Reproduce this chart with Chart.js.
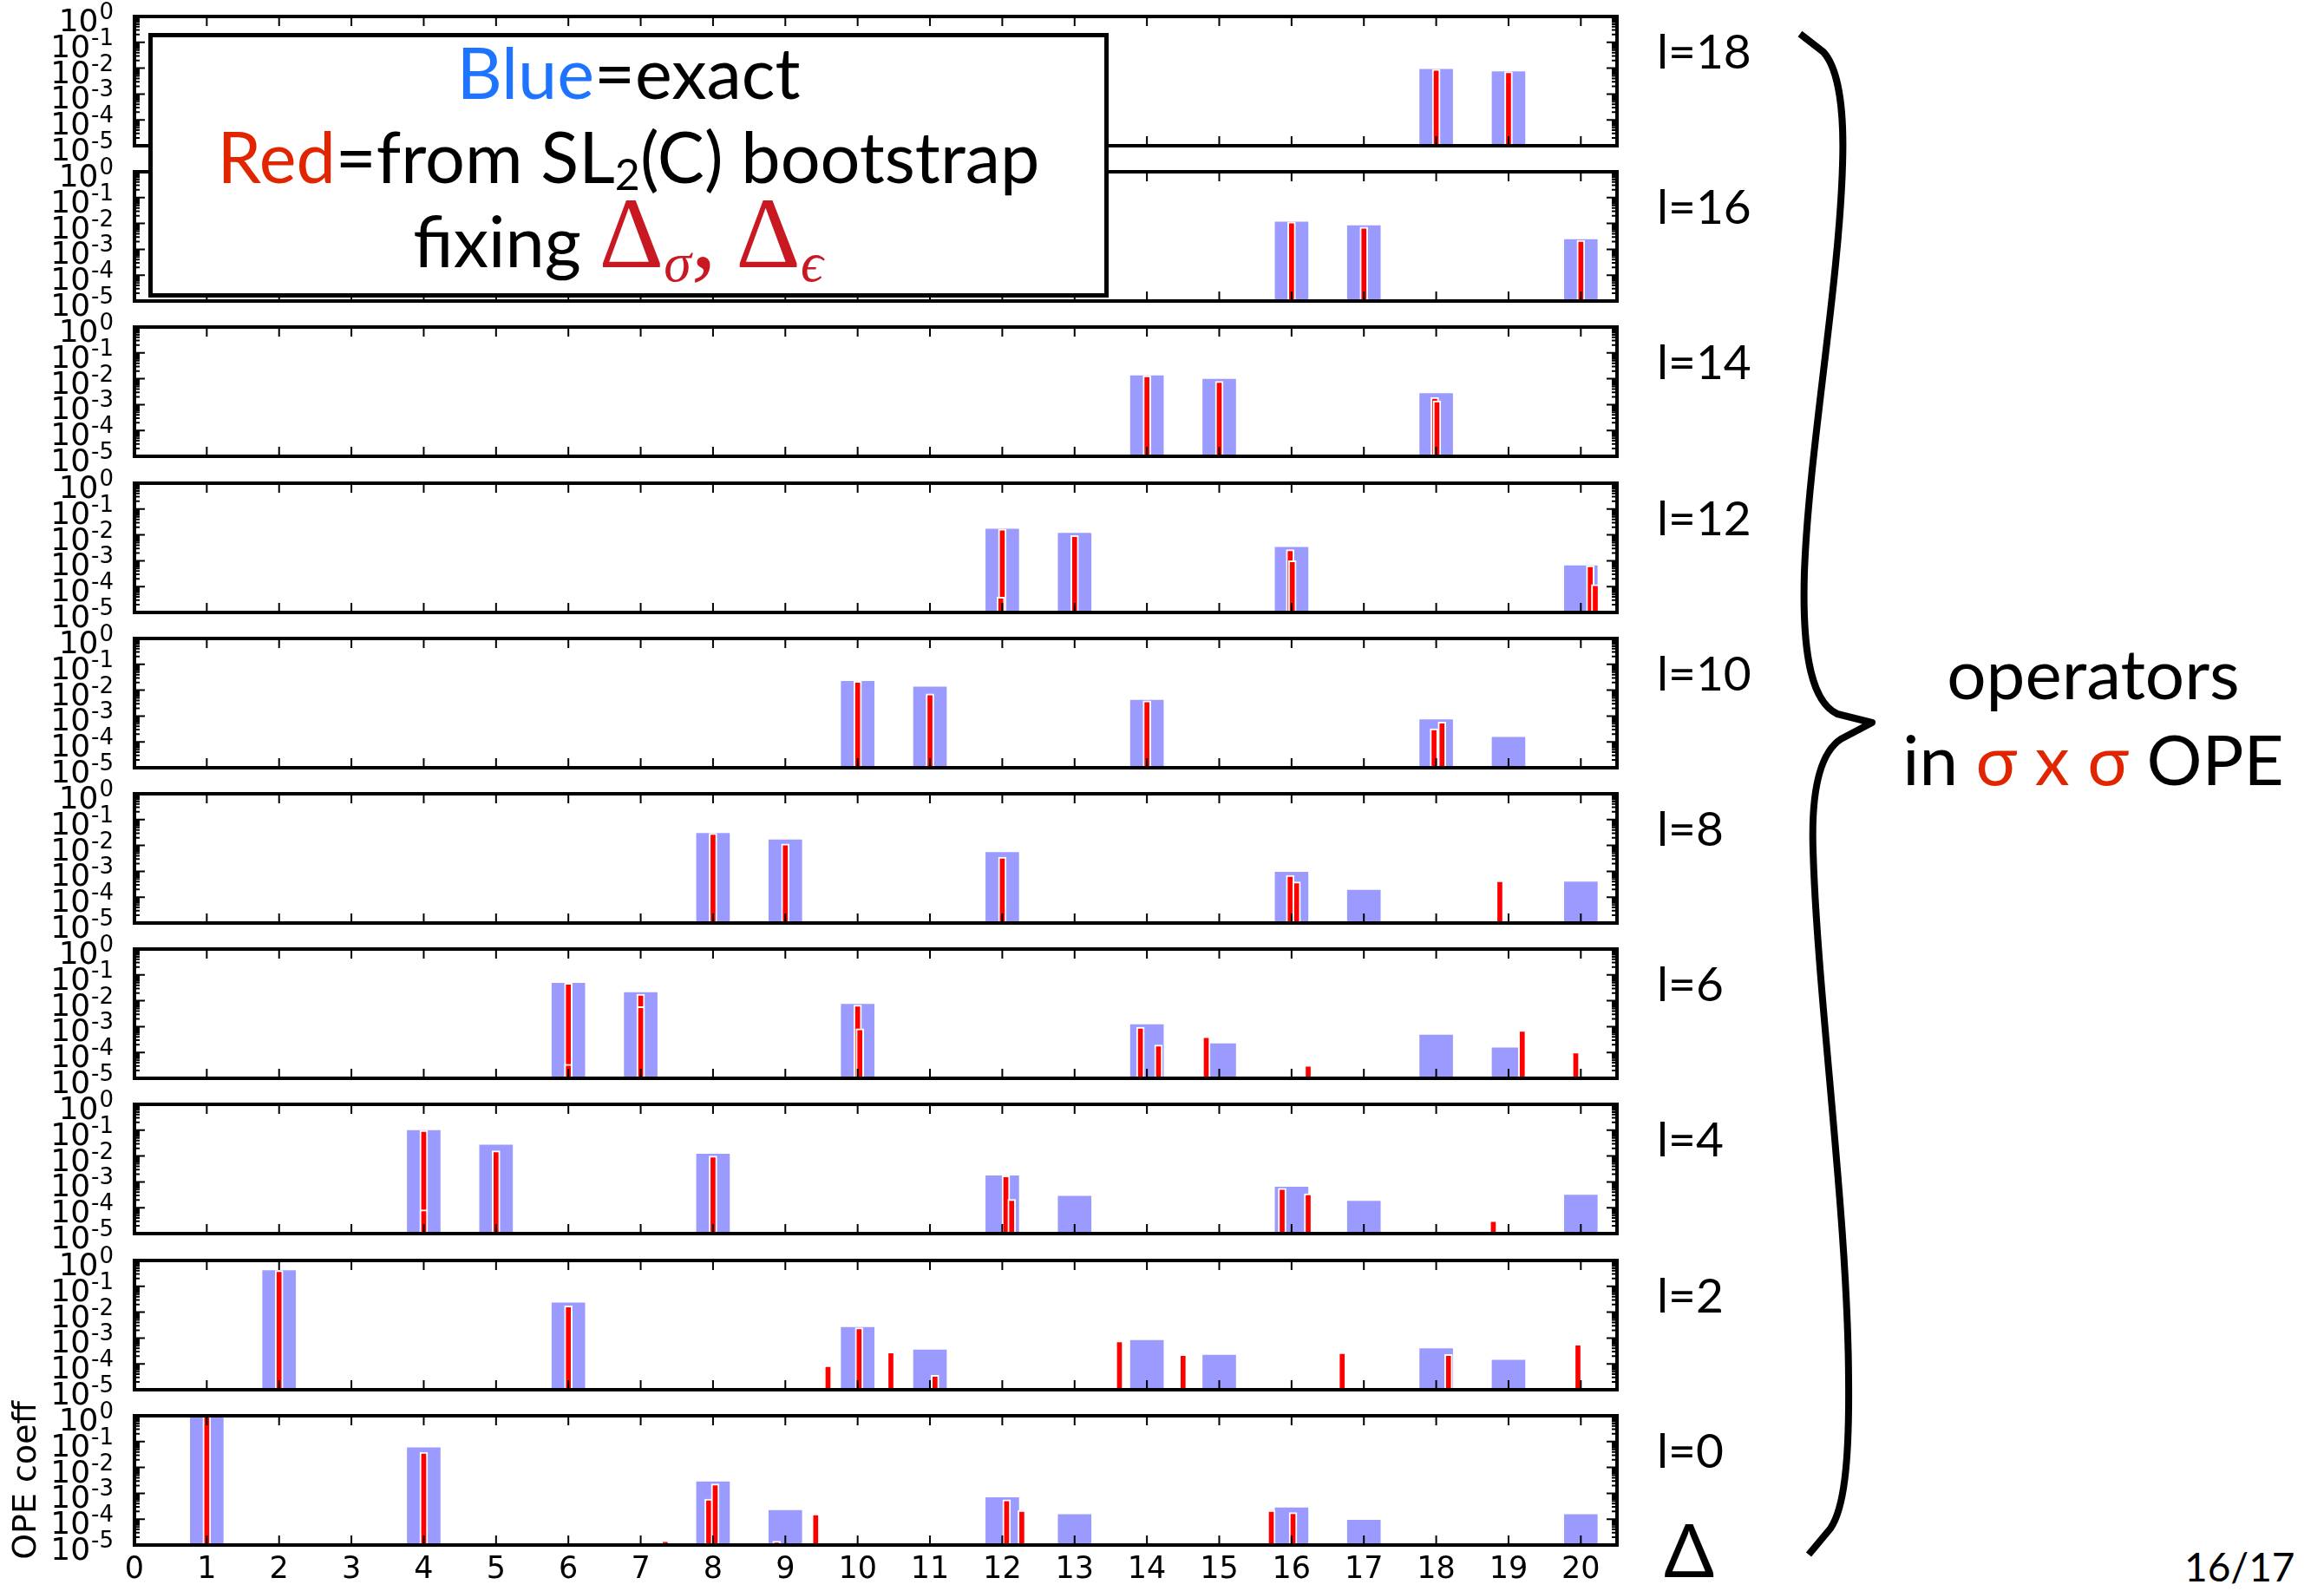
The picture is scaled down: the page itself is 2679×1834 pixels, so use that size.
<!DOCTYPE html>
<html>
<head>
<meta charset="utf-8">
<script src="https://cdn.jsdelivr.net/npm/chart.js@4.4.1/dist/chart.umd.min.js"></script>
<style>
body{margin:0;background:#fff;width:2679px;height:1834px;position:relative;overflow:hidden;font-family:Lato,sans-serif}
.panel{position:absolute;left:0}
.legend{position:absolute;left:171px;top:38px;width:1097px;height:295px;border:5px solid #000;background:#fff;z-index:10}
.legend div{position:absolute;left:0;width:100%;text-align:center;font-size:81px;height:97px;line-height:97px;white-space:nowrap}
.delta{font-family:'Liberation Serif',serif;color:#c81923;font-size:116px}
.delta sub{font-size:64px;font-style:italic;vertical-align:-16px}
.spin{position:absolute;left:1910px;font-size:55px;line-height:60px;height:60px}
.txt{position:absolute;white-space:nowrap}
</style>
</head>
<body>

<div class="legend">
  <div style="top:-9px"><span style="color:#1f74ff">Blue</span>=exact</div>
  <div style="top:88px"><span style="color:#e02500">Red</span>=from SL<sub style="font-size:50px;vertical-align:-8px">2</sub>(C) bootstrap</div>
  <div style="top:178px;left:-12px">fixing <span class="delta">&Delta;<sub>&sigma;</sub>, &Delta;<sub>&#x3f5;</sub></span></div>
</div>

<div class="txt" style="left:2150px;top:730px;width:526px;text-align:center;font-size:80px;line-height:90px">operators</div>
<div class="txt" style="left:2150px;top:829px;width:526px;text-align:center;font-size:80px;line-height:90px">in <span style="color:#e02500">&sigma; x &sigma;</span> OPE</div>
<div class="txt" style="left:1918px;top:1735px;font-size:86px;line-height:100px">&Delta;</div>
<div class="txt" style="left:2518px;top:1780px;font-size:46px;line-height:52px">16/17</div>

<svg width="2679" height="1834" style="position:absolute;left:0;top:0;z-index:5">
  <path d="M 2075 39 L 2102 60 C 2120 80, 2126 130, 2124 190 C 2120 330, 2085 520, 2080 660 C 2077 760, 2090 810, 2118 823 L 2158 833 L 2122 852 C 2095 870, 2088 920, 2090 980 C 2095 1150, 2130 1400, 2131 1590 C 2132 1690, 2125 1740, 2110 1762 L 2085 1792"
        fill="none" stroke="#000" stroke-width="8" stroke-linejoin="round"/>
</svg>

<script>
const spins = [18, 16, 14, 12, 10, 8, 6, 4, 2, 0];
const xTicks = [0,1,2,3,4,5,6,7,8,9,10,11,12,13,14,15,16,17,18,19,20];
const yTicks = [1e-5, 1e-4, 1e-3, 1e-2, 1e-1, 1];

// [Delta, OPE coefficient] per spin; blue = exact, red = bootstrap
const exact18 = [[18, 9.1e-3], [19, 7.4e-3]];
const boot18 = [[18, 9.1e-3], [19, 7.4e-3]];

const exact16 = [[16, 1.15e-2], [17, 8.3e-3], [20, 2.4e-3]];
const boot16 = [[16, 1.15e-2], [17, 7.2e-3], [20, 2.2e-3]];

const exact14 = [[14, 1.3e-2], [15, 9.6e-3], [18, 2.7e-3]];
const boot14 = [[14, 1.3e-2], [15, 7.9e-3], [17.98, 1.9e-3], [18.01, 1.4e-3]];

const exact12 = [[12, 1.7e-2], [13, 1.17e-2], [16, 3.3e-3], [20, 6.5e-4]];
const boot12 = [[12, 1.7e-2], [11.98, 3.9e-5], [13, 9.5e-3], [15.98, 2.7e-3], [16.01, 1.0e-3], [20.13, 6.5e-4], [20.2, 1.2e-4]];

const exact10 = [[10, 2.2e-2], [11, 1.35e-2], [14, 4.1e-3], [18, 7.2e-4], [19, 1.5e-4]];
const boot10 = [[10, 2.2e-2], [11, 7.2e-3], [14, 3.9e-3], [17.97, 3.2e-4], [18.08, 5.9e-4]];

const exact8 = [[8, 2.95e-2], [9, 1.66e-2], [12, 5.4e-3], [16, 9.3e-4], [17, 1.86e-4], [20, 3.9e-4]];
const boot8 = [[8, 2.95e-2], [9, 1.15e-2], [12, 3.5e-3], [15.98, 6.9e-4], [16.07, 3.9e-4], [18.88, 4.4e-4]];

const exact6 = [[6, 4.8e-2], [7, 2.1e-2], [10, 7.4e-3], [14, 1.2e-3], [15, 2.2e-4], [18, 4.7e-4], [19, 1.5e-4]];
const boot6 = [[6, 4.8e-2], [6, 3.5e-5], [7, 1.8e-2], [7, 6.0e-3], [10, 6.8e-3], [10.03, 8.3e-4], [13.91, 9.5e-4],
               [14.16, 1.95e-4], [14.82, 4.1e-4], [16.23, 3.2e-5], [19.19, 7.2e-4], [19.93, 1.05e-4]];

const exact4 = [[4, 9.8e-2], [5, 2.7e-2], [8, 1.2e-2], [12, 1.74e-3], [13, 2.8e-4], [16, 6.3e-4], [17, 1.8e-4], [20, 3.1e-4]];
const boot4 = [[4, 9.8e-2], [4, 8.3e-5], [5, 1.6e-2], [8, 1.0e-2], [12.05, 1.74e-3], [12.13, 2.1e-4],
               [15.87, 5.6e-4], [16.23, 3.5e-4], [18.79, 3.2e-5]];

const exact2 = [[2, 0.41], [6, 2.3e-2], [10, 2.6e-3], [11, 3.5e-4], [14, 8.1e-4], [15, 2.2e-4], [18, 3.9e-4], [19, 1.4e-4]];
const boot2 = [[2, 0.41], [6, 1.74e-2], [9.59, 8.7e-5], [10.02, 2.5e-3], [10.46, 2.9e-4], [11.07, 3.6e-5],
               [13.62, 7.8e-4], [14.5, 2.3e-4], [16.7, 2.75e-4], [18.17, 2.3e-4], [19.96, 5.9e-4]];

const exact0 = [[1, 1], [4, 5.8e-2], [8, 2.8e-3], [9, 2.2e-4], [12, 6.8e-4], [13, 1.5e-4], [16, 2.75e-4], [17, 9.1e-5], [20, 1.5e-4]];
const boot0 = [[1, 1], [4, 3.9e-2], [7.34, 1.5e-5], [7.94, 6.0e-4], [8.03, 2.3e-3], [8.88, 1.4e-5], [9.42, 1.6e-4],
               [12.06, 5.6e-4], [12.27, 2.2e-4], [15.72, 2.2e-4], [16.02, 1.8e-4]];

const exactSets = [exact18, exact16, exact14, exact12, exact10, exact8, exact6, exact4, exact2, exact0];
const bootSets = [boot18, boot16, boot14, boot12, boot10, boot8, boot6, boot4, boot2, boot0];

const PANEL_TOP = 19, PANEL_STEP = 179.2, PANEL_H = 149;
const PLOT_LEFT = 155, PLOT_RIGHT = 1864, PAD = 30;
const LABEL_RIGHT = 131;

function toBars(points){
    return points.map(p => ({x: p[0], y: [1e-5, p[1]]}));
}

// frame, inward ticks and 10^n labels, like the original plots
const framePlugin = {
    id: 'frame',
    afterDraw(chart){
        const {ctx, chartArea: a} = chart;
        const x = chart.scales.x, y = chart.scales.y;
        ctx.save();
        ctx.strokeStyle = '#000';
        ctx.lineWidth = 2;
        ctx.beginPath();
        xTicks.forEach(v => {
            const px = x.getPixelForValue(v);
            ctx.moveTo(px, a.bottom); ctx.lineTo(px, a.bottom - 11);
            ctx.moveTo(px, a.top); ctx.lineTo(px, a.top + 11);
        });
        for(let e = -5; e < 0; e++){
            for(let m = 1; m < 10; m++){
                const py = y.getPixelForValue(m * Math.pow(10, e));
                const len = m === 1 ? 12 : 6;
                ctx.moveTo(a.left, py); ctx.lineTo(a.left + len, py);
                ctx.moveTo(a.right, py); ctx.lineTo(a.right - len, py);
            }
        }
        ctx.stroke();
        ctx.lineWidth = 4;
        ctx.strokeRect(a.left, a.top, a.right - a.left, a.bottom - a.top);

        ctx.fillStyle = '#000';
        ctx.textAlign = 'right';
        ctx.textBaseline = 'alphabetic';
        yTicks.forEach(v => {
            const py = y.getPixelForValue(v);
            const expo = String(Math.round(Math.log10(v)));
            ctx.font = '26px "DejaVu Sans"';
            const w = ctx.measureText(expo).width;
            ctx.fillText(expo, LABEL_RIGHT, py + 3);
            ctx.font = '36px "DejaVu Sans"';
            ctx.fillText('10', LABEL_RIGHT - w - 1, py + 17);
        });
        ctx.restore();
    }
};

spins.forEach((l, i) => {
    const last = i === spins.length - 1;
    const top = PANEL_TOP + i * PANEL_STEP;
    const h = PAD + PANEL_H + (last ? 60 : PAD);
    const canvas = document.createElement('canvas');
    canvas.className = 'panel';
    canvas.width = PLOT_RIGHT + 16;
    canvas.height = h;
    canvas.style.top = (top - PAD) + 'px';
    document.body.appendChild(canvas);

    const label = document.createElement('div');
    label.className = 'spin';
    label.style.top = (top + 9) + 'px';
    label.textContent = 'l=' + l;
    document.body.appendChild(label);

    new Chart(canvas, {
        type: 'bar',
        data: {
            datasets: [{
                label: 'exact',
                data: toBars(exactSets[i]),
                backgroundColor: '#9b9bff',
                borderWidth: 0,
                barThickness: 38,
                grouped: false,
                order: 1
            }, {
                label: 'SL2(C) bootstrap',
                data: toBars(bootSets[i]),
                backgroundColor: '#ff0000',
                borderColor: '#ffffff',
                borderWidth: 2,
                barThickness: 9,
                grouped: false,
                order: 0
            }]
        },
        options: {
            responsive: false,
            animation: false,
            events: [],
            layout: {padding: {top: PAD, bottom: last ? 0 : PAD, left: 0, right: 16}},
            plugins: {legend: {display: false}, tooltip: {enabled: false}},
            scales: {
                x: {
                    type: 'linear', min: 0, max: 20.5, offset: false,
                    display: last,
                    grid: {display: false, drawTicks: false},
                    border: {display: false},
                    afterBuildTicks: s => { s.ticks = xTicks.map(v => ({value: v})); },
                    ticks: {autoSkip: false, maxRotation: 0, padding: 8, color: '#000',
                            font: {family: 'DejaVu Sans', size: 35}},
                    afterFit: s => {
                        s.height = last ? 60 : 0;
                        s.paddingLeft = 0; s.paddingRight = 0;
                    }
                },
                y: {
                    type: 'logarithmic', min: 1e-5, max: 1,
                    grid: {display: false, drawTicks: false},
                    border: {display: false},
                    afterBuildTicks: s => { s.ticks = yTicks.map(v => ({value: v})); },
                    ticks: {display: false},
                    title: {display: last, text: 'OPE coeff', color: '#000', padding: {top: 8, bottom: 0},
                            font: {family: 'DejaVu Sans', size: 38}},
                    afterFit: s => {
                        s.width = PLOT_LEFT;
                        s.paddingTop = 0; s.paddingBottom = 0;
                    }
                }
            }
        },
        plugins: [framePlugin]
    });
});
</script>
</body>
</html>
